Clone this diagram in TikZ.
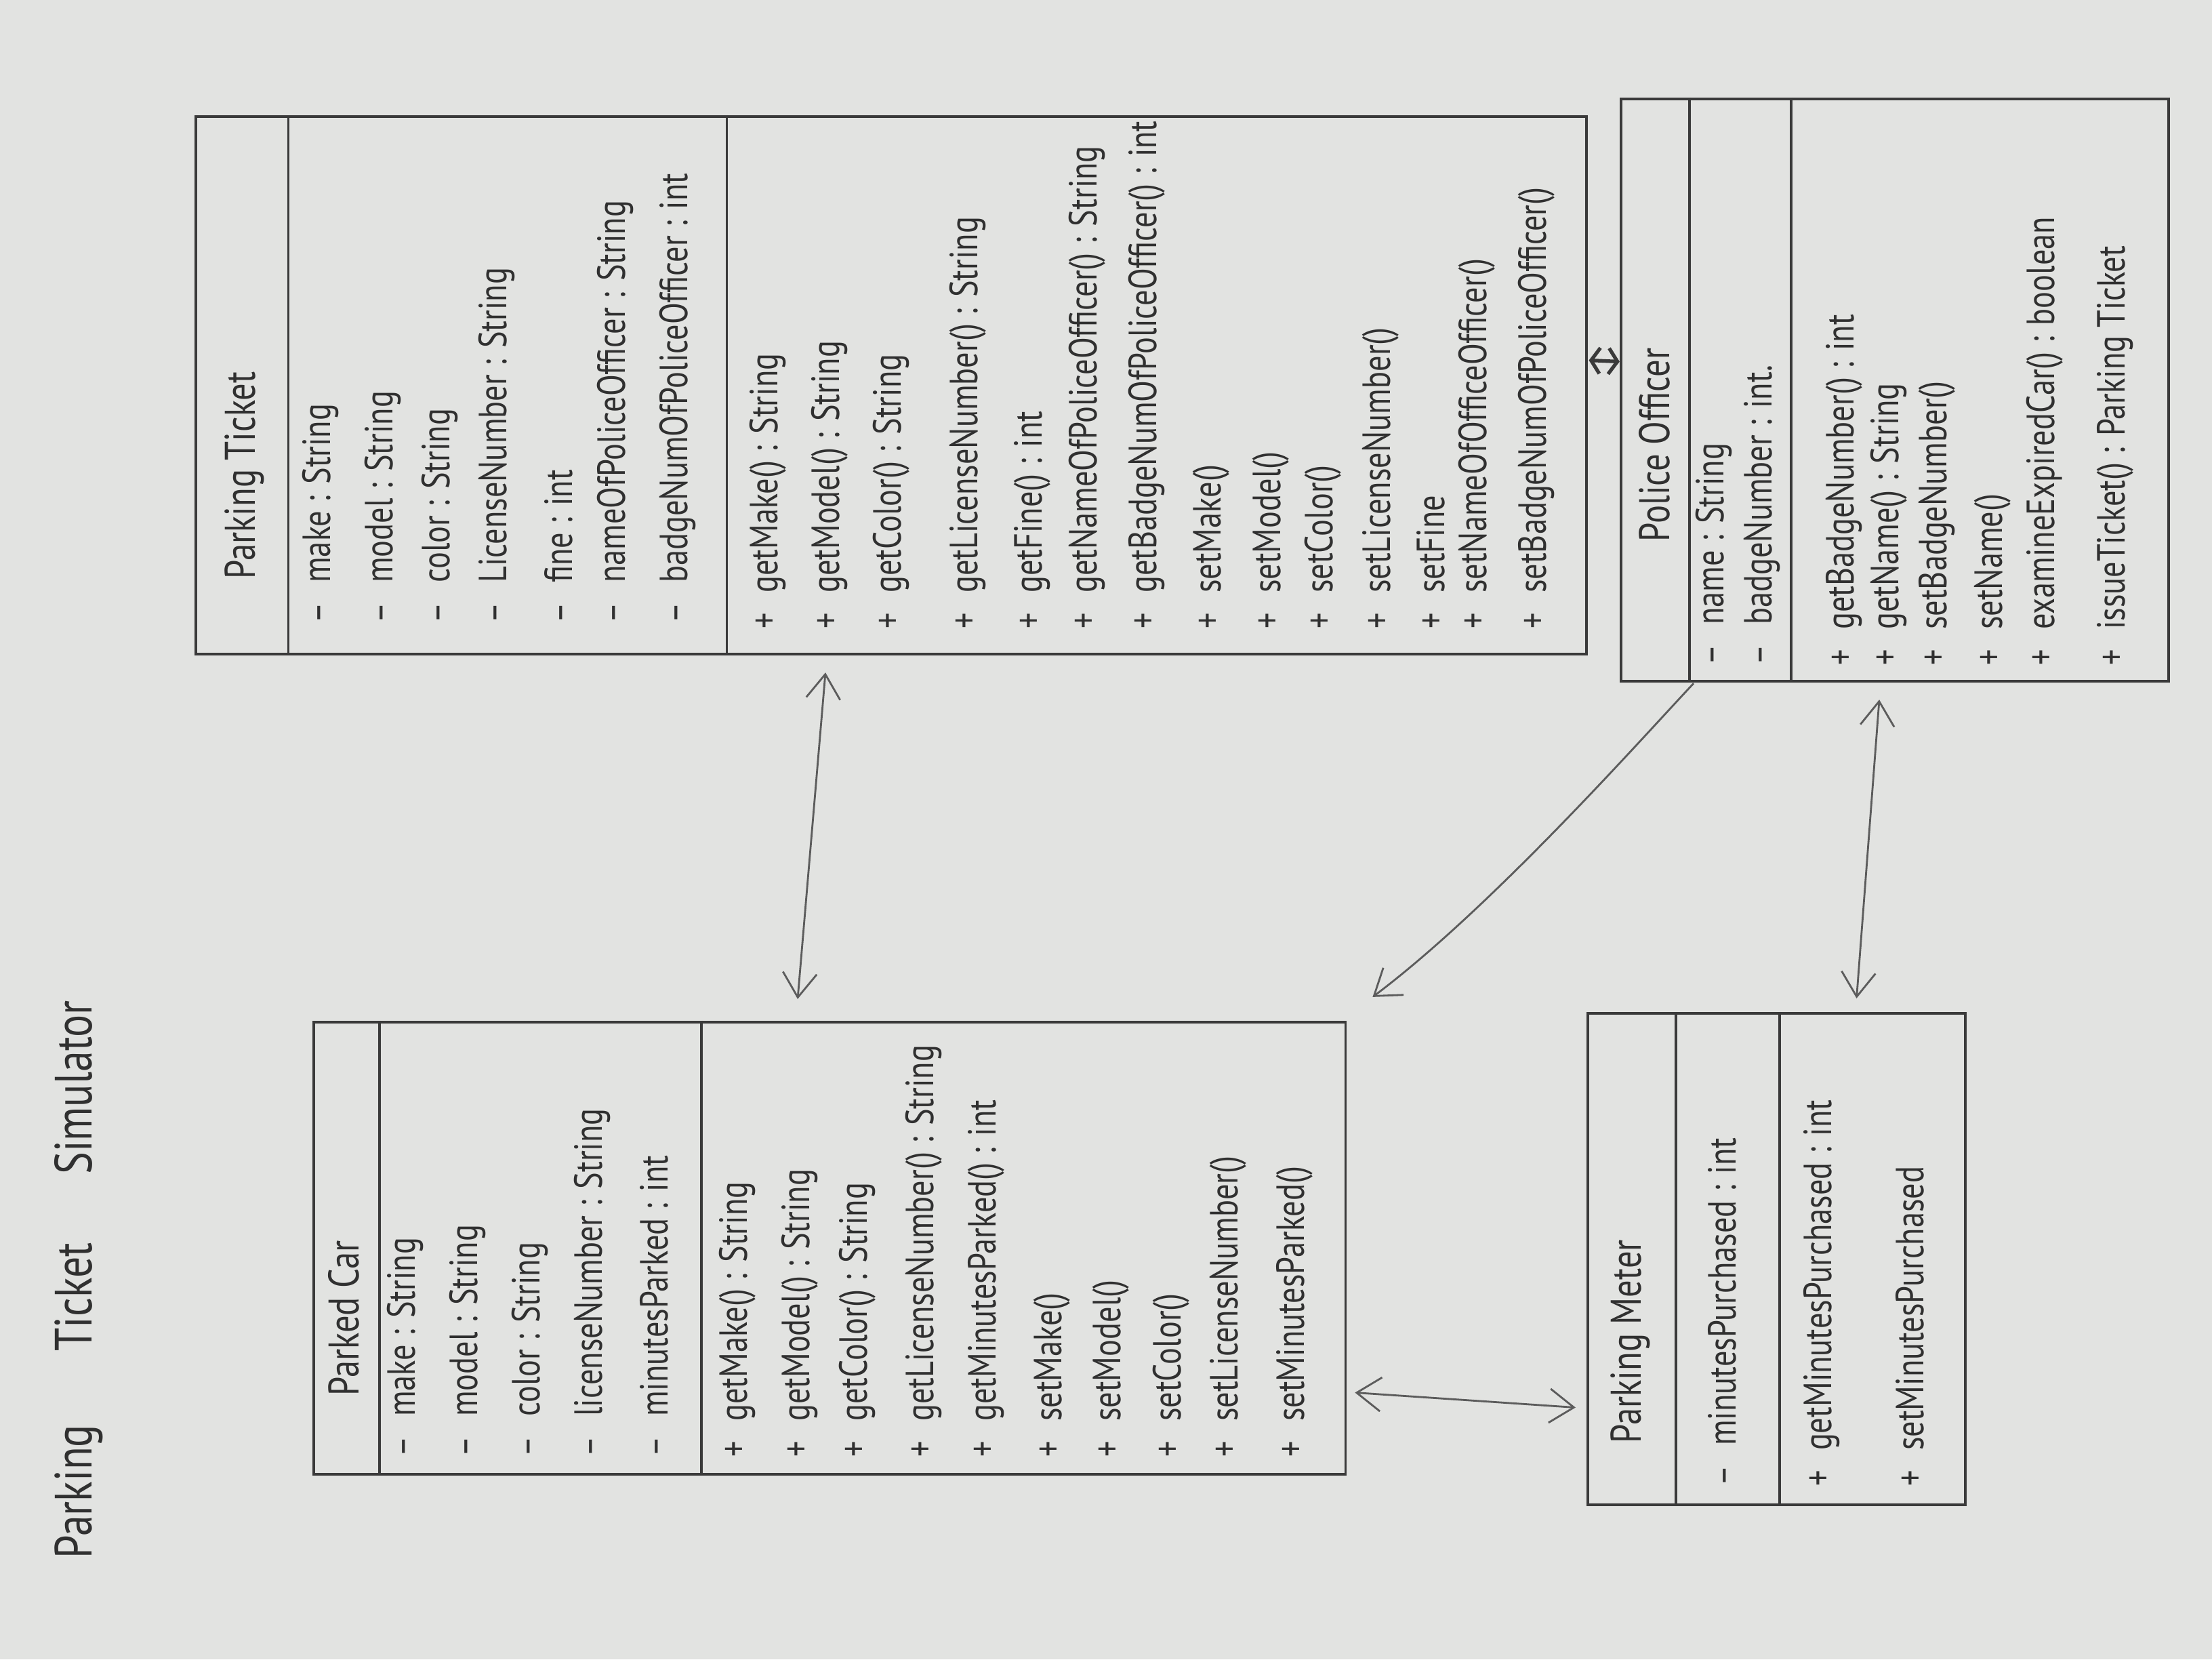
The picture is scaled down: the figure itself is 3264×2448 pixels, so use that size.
\documentclass[tikz,border=0pt]{standalone}
\usepackage{fontspec}
\setmainfont{PT Sans}[FakeStretch=0.8]
\usetikzlibrary{arrows.meta,calc}
\definecolor{paper}{RGB}{226,227,225}
\definecolor{pencil}{RGB}{58,58,58}
\definecolor{ink}{RGB}{48,48,48}
\definecolor{lead}{RGB}{92,92,92}
\tikzset{
  box/.style={draw=pencil,line width=1.1pt,inner sep=0pt,rectangle},
  divider/.style={draw=pencil,line width=1.1pt},
  txt/.style={rotate=90,anchor=west,inner sep=0pt,text=ink,font=\fontsize{16.5}{20}\selectfont},
  cls/.style={txt,font=\fontsize{18}{21}\selectfont},
  link/.style={draw=lead,line width=0.8pt},
  both/.style={link,{Straight Barb[length=3.6mm,width=5mm]}-{Straight Barb[length=3.6mm,width=5mm]}},
  tohead/.style={link,-{Straight Barb[length=3.6mm,width=5mm]}},
  stub/.style={draw=pencil,line width=1.5pt,{Straight Barb[length=1.3mm,width=3.8mm]}-{Straight Barb[length=1.3mm,width=3.8mm]}},
}
\newcommand{\mi}{--\enspace}
\newcommand{\pl}{+\enspace}
\begin{document}
\begin{tikzpicture}[x=0.01cm,y=-0.01cm]
% sheet of paper
\fill[paper] (0,0) rectangle (3264,2448);
\useasboundingbox (0,0) rectangle (3264,2448);

% heading
\node[cls,font=\fontsize{22}{26}\selectfont] (heading) at (116,2300)
  {Parking\hspace{1.4em}Ticket\hspace{1.3em}Simulator};

% ---------------- ParkingTicket ----------------
\node[box,minimum width=20.5cm,minimum height=7.93cm] (pt) at (1315,568.5) {};
\draw[divider] ($(pt.north west)+(138,0)$) -- ($(pt.south west)+(138,0)$);
\draw[divider] ($(pt.north west)+(785,0)$) -- ($(pt.south west)+(785,0)$);
\node[cls] (pt-name) at (361,855) {Parking Ticket};
\node[txt] (pt-a1) at (473,920) {\mi make : String};
\node[txt] (pt-a2) at (565,920) {\mi model : String};
\node[txt] (pt-a3) at (649,920) {\mi color : String};
\node[txt] (pt-a4) at (733,920) {\mi LicenseNumber : String};
\node[txt] (pt-a5) at (824,920) {\mi fine : int};
\node[txt] (pt-a6) at (908,920) {\mi nameOfPoliceOfficer : String};
\node[txt] (pt-a7) at (1000,920) {\mi badgeNumOfPoliceOfficer : int};
\node[txt] (pt-m1) at (1133,928) {\pl getMake() : String};
\node[txt] (pt-m2) at (1224,928) {\pl getModel() : String};
\node[txt] (pt-m3) at (1315,928) {\pl getColor() : String};
\node[txt] (pt-m4) at (1428,928) {\pl getLicenseNumber() : String};
\node[txt] (pt-m5) at (1523,928) {\pl getFine() : int};
\node[txt] (pt-m6) at (1604,928) {\pl getNameOfPoliceOfficer() : String};
\node[txt] (pt-m7) at (1692,928) {\pl getBadgeNumOfPoliceOfficer() : int};
\node[txt] (pt-m8) at (1787,928) {\pl setMake()};
\node[txt] (pt-m9) at (1875,928) {\pl setModel()};
\node[txt] (pt-m10) at (1952,928) {\pl setColor()};
\node[txt] (pt-m11) at (2037,928) {\pl setLicenseNumber()};
\node[txt] (pt-m12) at (2111,928) {\pl setFine};
\node[txt] (pt-m13) at (2179,928) {\pl setNameOfOfficeOfficer()};
\node[txt] (pt-m14) at (2267,928) {\pl setBadgeNumOfPoliceOfficer()};

% ---------------- PoliceOfficer ----------------
\node[box,minimum width=8.08cm,minimum height=8.59cm] (po) at (2796,575.5) {};
\draw[divider] ($(po.north west)+(103,0)$) -- ($(po.south west)+(103,0)$);
\draw[divider] ($(po.north west)+(253,0)$) -- ($(po.south west)+(253,0)$);
\node[cls] (po-name) at (2441,800) {Police Officer};
\node[txt] (po-a1) at (2529,982) {\mi name : String};
\node[txt] (po-a2) at (2600,982) {\mi badgeNumber : int.};
\node[txt] (po-m1) at (2721,982) {\pl getBadgeNumber() : int};
\node[txt] (po-m2) at (2787,982) {\pl getName() : String};
\node[txt] (po-m3) at (2858,982) {\pl setBadgeNumber()};
\node[txt] (po-m4) at (2940,982) {\pl setName()};
\node[txt] (po-m5) at (3017,982) {\pl examineExpiredCar() : boolean};
\node[txt] (po-m6) at (3121,982) {\pl issueTicket() : Parking Ticket};

% ---------------- ParkedCar ----------------
\node[box,minimum width=15.22cm,minimum height=6.67cm] (pc) at (1224,1841.5) {};
\draw[divider] ($(pc.north west)+(99,0)$) -- ($(pc.south west)+(99,0)$);
\draw[divider] ($(pc.north west)+(574,0)$) -- ($(pc.south west)+(574,0)$);
\node[cls] (pc-name) at (507,2060) {Parked Car};
\node[txt] (pc-a1) at (598,2150) {\mi make : String};
\node[txt] (pc-a2) at (690,2150) {\mi model : String};
\node[txt] (pc-a3) at (782,2150) {\mi color : String};
\node[txt] (pc-a4) at (874,2150) {\mi licenseNumber : String};
\node[txt] (pc-a5) at (965,2150) {\mi minutesParked : int};
\node[txt] (pc-m1) at (1088,2150) {\pl getMake() : String};
\node[txt] (pc-m2) at (1180,2150) {\pl getModel() : String};
\node[txt] (pc-m3) at (1265,2150) {\pl getColor() : String};
\node[txt] (pc-m4) at (1363,2150) {\pl getLicenseNumber() : String};
\node[txt] (pc-m5) at (1455,2150) {\pl getMinutesParked() : int};
\node[txt] (pc-m6) at (1552,2150) {\pl setMake()};
\node[txt] (pc-m7) at (1639,2150) {\pl setModel()};
\node[txt] (pc-m8) at (1728,2150) {\pl setColor()};
\node[txt] (pc-m9) at (1812,2150) {\pl setLicenseNumber()};
\node[txt] (pc-m10) at (1910,2150) {\pl setMinutesParked()};

% ---------------- ParkingMeter ----------------
\node[box,minimum width=5.57cm,minimum height=7.25cm] (pm) at (2621.5,1857.5) {};
\draw[divider] ($(pm.north west)+(132,0)$) -- ($(pm.south west)+(132,0)$);
\draw[divider] ($(pm.north west)+(285,0)$) -- ($(pm.south west)+(285,0)$);
\node[cls] (pm-name) at (2406,2130) {Parking Meter};
\node[txt] (pm-a1) at (2541,2193) {\mi minutesPurchased : int};
\node[txt] (pm-m1) at (2688,2193) {\pl getMinutesPurchased : int};
\node[txt] (pm-m2) at (2818,2193) {\pl setMinutesPurchased};

% ---------------- associations ----------------
\draw[both] ($(pt.south)+(-97,25)$) -- ($(pc.north)+(-47,-32)$);
\draw[stub] ($(pt.east)+(2,-37)$) -- ($(po.west)+(0,-42)$);
\draw[tohead] ($(po.south)+(-297,1)$) .. controls +(-79,84) and +(177,-133) .. ($(pc.north east)+(38,-35)$);
\draw[both] ($(po.south)+(-23,25)$) -- ($(pm.north)+(118,-20)$);
\draw[both] ($(pc.east)+(12,213)$) -- ($(pm.west)+(-16,219)$);
\end{tikzpicture}
\end{document}
